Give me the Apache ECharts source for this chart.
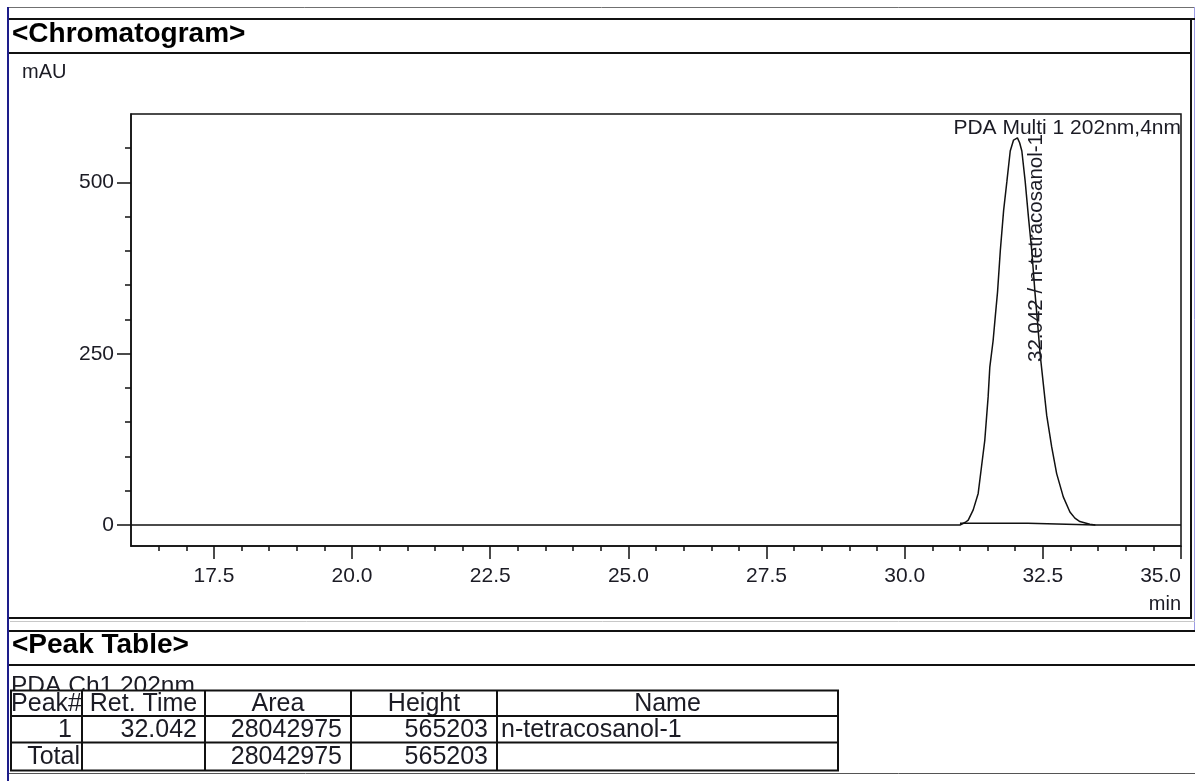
<!DOCTYPE html>
<html>
<head>
<meta charset="utf-8">
<script src="https://cdn.jsdelivr.net/npm/echarts@6/dist/echarts.min.js"></script>
<style>
html,body{margin:0;padding:0;background:#fff;}
#main{width:1195px;height:781px;}
</style>
</head>
<body>
<div id="main"></div>
<script>
// ---- data ----
const signalTime = [16.00, 31.00, 31.00, 31.10, 31.15, 31.24, 31.33, 31.39, 31.45, 31.51, 31.54, 31.60, 31.64, 31.68, 31.73, 31.79, 31.85, 31.91, 31.97, 32.04, 32.08, 32.12, 32.18, 32.24, 32.30, 32.36, 32.41, 32.45, 32.51, 32.57, 32.66, 32.75, 32.87, 32.99, 33.08, 33.17, 33.35, 33.45, 35.00];
const signalMAU  = [0, 0, 2.5, 4, 7, 22, 46, 85, 124, 187, 230, 269, 305, 340, 400, 459, 502, 546, 562, 565.2, 558, 546, 502, 449, 400, 337, 290, 250, 205, 160, 114, 75, 41, 19, 10, 5, 1, 0, 0];
const baselineTime = [31.00, 32.23, 32.23, 33.45];
const baselineMAU  = [2.5, 2.5, 0, 0];

const xMajorTicks = [17.5, 20.0, 22.5, 25.0, 27.5, 30.0, 32.5, 35.0];
const xMinorTicks = [16.5, 17.0, 18.0, 18.5, 19.0, 19.5, 20.5, 21.0, 21.5, 22.0, 23.0, 23.5, 24.0, 24.5, 25.5, 26.0, 26.5, 27.0, 28.0, 28.5, 29.0, 29.5, 30.5, 31.0, 31.5, 32.0, 33.0, 33.5, 34.0, 34.5];
const yMajorTicks = [0, 250, 500];
const yMinorTicks = [50, 100, 150, 200, 300, 350, 400, 450, 550];

const peakRetTime = 32.042;
const peakLabel = '32.042 / n-tetracosanol-1';
const channelLabel = 'PDA Multi 1 202nm,4nm';

const tableChannel = 'PDA Ch1 202nm';
const tableHeader = ['Peak#', 'Ret. Time', 'Area', 'Height', 'Name'];
const tableRow1 = ['1', '32.042', '28042975', '565203', 'n-tetracosanol-1'];
const tableTotal = ['Total', '', '28042975', '565203', ''];

// ---- chart ----
const FONT = '"Liberation Sans", Arial, sans-serif';
const TXT = '#1b1b24';
const chart = echarts.init(document.getElementById('main'), null, {renderer: 'canvas'});

function zip(a, b) { return a.map((v, i) => [v, b[i]]); }

const gridPos = {left: 131, top: 114, width: 1050, height: 432};
const yMin = -30.7, yMax = 600, xMin = 16, xMax = 35;

const option = {
  backgroundColor: '#ffffff',
  animation: false,
  grid: Object.assign({show: true, borderColor: '#111', borderWidth: 1.5, backgroundColor: 'transparent',
    containLabel: false, outerBoundsMode: 'none'}, gridPos),
  xAxis: [
    {
      type: 'value', min: xMin, max: xMax, position: 'bottom',
      axisLine: {show: true, onZero: false, lineStyle: {color: '#111', width: 1.5}},
      axisTick: {show: true, inside: false, length: 13, customValues: xMajorTicks, lineStyle: {color: '#111', width: 1.5}},
      axisLabel: {show: true, customValues: xMajorTicks, margin: 20, fontSize: 21, fontFamily: FONT, color: TXT,
        hideOverlap: false, alignMaxLabel: 'right', formatter: v => Number(v).toFixed(1)},
      splitLine: {show: false}
    },
    {
      type: 'value', min: xMin, max: xMax, position: 'bottom', gridIndex: 0,
      axisLine: {show: false, onZero: false},
      axisTick: {show: true, inside: false, length: 5, customValues: xMinorTicks, lineStyle: {color: '#111', width: 1.5}},
      axisLabel: {show: false},
      splitLine: {show: false}
    }
  ],
  yAxis: [
    {
      type: 'value', min: yMin, max: yMax, position: 'left',
      axisLine: {show: true, onZero: false, lineStyle: {color: '#111', width: 1.5}},
      axisTick: {show: true, inside: false, length: 14, customValues: yMajorTicks, lineStyle: {color: '#111', width: 1.5}},
      axisLabel: {show: true, customValues: yMajorTicks, margin: 17, fontSize: 21, fontFamily: FONT, color: TXT},
      splitLine: {show: false}
    },
    {
      type: 'value', min: yMin, max: yMax, position: 'left', gridIndex: 0,
      axisLine: {show: false, onZero: false},
      axisTick: {show: true, inside: false, length: 6, customValues: yMinorTicks, lineStyle: {color: '#111', width: 1.5}},
      axisLabel: {show: false},
      splitLine: {show: false}
    }
  ],
  series: [
    {
      name: 'signal', type: 'line', xAxisIndex: 0, yAxisIndex: 0,
      data: zip(signalTime, signalMAU), showSymbol: false, symbol: 'none', smooth: false,
      lineStyle: {color: '#111', width: 1.5}, z: 3
    },
    {
      name: 'baseline', type: 'line', xAxisIndex: 0, yAxisIndex: 0,
      data: zip(baselineTime, baselineMAU), showSymbol: false, symbol: 'none',
      lineStyle: {color: '#111', width: 1.5}, z: 3
    }
  ]
};
chart.setOption(option);

// ---- frame, headers, annotations and table as graphic elements ----
const g = [];
function line(x1, y1, x2, y2, color, w, z) {
  g.push({type: 'line', silent: true, z: z || 10, shape: {x1, y1, x2, y2}, style: {stroke: color, lineWidth: w}});
}
function text(str, x, y, size, align, vAlign, opts) {
  opts = opts || {};
  g.push(Object.assign({
    type: 'text', silent: true, z: opts.z || 12, x: x, y: y, rotation: opts.rotation || 0,
    style: {
      text: str, fill: opts.color || TXT,
      font: (opts.bold ? 'bold ' : '') + size + 'px ' + FONT,
      align: align, textAlign: align, verticalAlign: vAlign, textVerticalAlign: vAlign
    }
  }));
}

// outer decorations
line(8, 7.5, 1195, 7.5, '#707070', 1);
line(8, 7, 8, 781, '#1d1d8a', 2);
line(1194.5, 7, 1194.5, 632, '#9c9ce6', 1);
// chromatogram box
line(9, 19, 1195, 19, '#111', 2);
line(9, 53, 1191, 53, '#111', 2);
line(1191, 19, 1191, 619, '#111', 2);
line(9, 618, 1192, 618, '#111', 2);
line(10, 621.5, 1195, 621.5, '#c8c8c8', 1);
text('<Chromatogram>', 12, 34, 28, 'left', 'middle', {bold: true, color: '#000'});
text('mAU', 22, 72, 20, 'left', 'middle');
text('min', 1181, 604, 20, 'right', 'middle');
text(channelLabel, 1181, 128, 21, 'right', 'middle');

// vertical peak label, anchored through the chart scales
const pk = chart.convertToPixel({xAxisIndex: 0, yAxisIndex: 0}, [peakRetTime, 238]);
text(peakLabel, pk[0] + 19, pk[1], 20.5, 'left', 'middle', {rotation: Math.PI / 2});

// peak table block
line(9, 631, 1195, 631, '#111', 2);
line(9, 665, 1195, 665, '#111', 2);
text('<Peak Table>', 12, 645, 28, 'left', 'middle', {bold: true, color: '#000'});
text(tableChannel, 11, 686, 24.5, 'left', 'middle', {z: 11});

const colX = [11, 82, 205, 351, 497, 838];
const rowY = [690.5, 716, 742.5, 770.5];
// white cells hide the bottom of the channel caption
g.push({type: 'rect', silent: true, z: 11.5, shape: {x: colX[0], y: rowY[0], width: colX[5] - colX[0], height: rowY[3] - rowY[0]}, style: {fill: '#fff', stroke: 'none'}});
rowY.forEach(y => line(colX[0] - 1, y, colX[5] + 1, y, '#111', 2, 14));
colX.forEach(x => line(x, rowY[0], x, rowY[3], '#111', 2, 14));
line(9, 773.5, 1195, 773.5, '#555', 1);

const TS = 25;
function cellText(str, col, row, mode) {
  if (!str) return;
  const cy = (rowY[row] + rowY[row + 1]) / 2 + 0.5;
  let x, a;
  if (mode === 'center') { x = (colX[col] + colX[col + 1]) / 2; a = 'center'; }
  else if (mode === 'left') { x = colX[col] + 4; a = 'left'; }
  else { x = colX[col + 1] - (mode || 9); a = 'right'; }
  text(str, x, cy, TS, a, 'middle', {z: 13});
}
tableHeader.forEach((s, i) => cellText(s, i, 0, 'center'));
const rightPads = [10, 8, 9, 9];
tableRow1.forEach((s, i) => cellText(s, i, 1, i === 4 ? 'left' : rightPads[i]));
tableTotal.forEach((s, i) => cellText(s, i, 2, i === 0 ? 2 : (i === 4 ? 'left' : rightPads[i])));

chart.setOption({graphic: {elements: g}});
</script>
</body>
</html>
